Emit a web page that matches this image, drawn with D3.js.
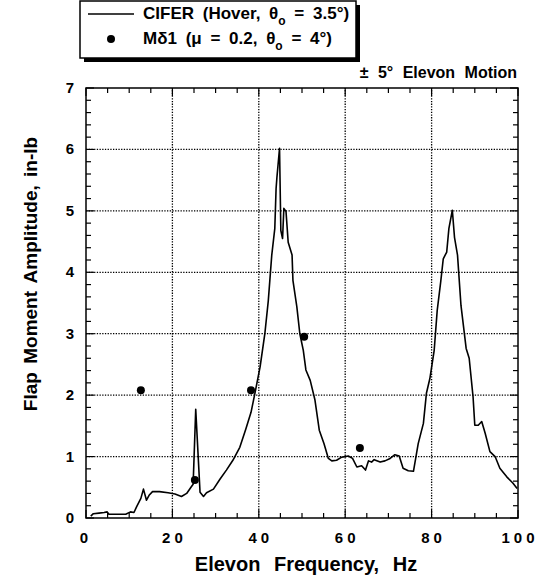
<!DOCTYPE html>
<html lang="en">
<head>
    <meta charset="UTF-8">
    <script src="https://cdn.jsdelivr.net/npm/d3@7"></script>
    <style>
        body { margin: 0; background: #fff; }
        text { font-family: "Liberation Sans", Arial, Helvetica, sans-serif; font-weight: bold; fill: #000; }
    </style>
</head>
<body>
<div id="fig"></div>
<script>
    const width = 548, height = 581;
    const margins = { top: 88, bottom: 63, left: 86, right: 30 };

    // CIFER hover frequency sweep (Hz, in-lb)
    const ciferFreq = [1.1, 1.7, 3.0, 4.2, 4.9, 5.3, 7.0, 9.2, 10.3, 11.1, 11.7, 12.7, 13.3, 14.0, 14.6, 15.4,
        17.0, 19.0, 20.6, 22.1, 23.3, 24.3, 24.8, 25.4, 26.4, 27.2, 27.9, 29.5, 31.0, 32.5, 34.0, 35.6,
        37.0, 38.2, 39.1, 40.3, 41.4, 42.2, 43.0, 43.7, 44.0, 44.2, 44.8, 45.1, 45.5, 45.8, 46.3, 46.8,
        47.7, 47.9, 48.8, 49.5, 50.3, 50.9, 51.9, 53.0, 54.0, 55.1, 56.1, 56.9, 58.0, 59.2, 60.7, 61.7,
        62.7, 63.8, 64.7, 65.4, 66.1, 66.7, 68.1, 69.2, 70.4, 71.5, 72.5, 73.4, 74.6, 75.8, 76.9, 78.1,
        78.8, 79.6, 80.6, 81.3, 82.1, 82.7, 83.5, 84.0, 84.8, 85.3, 86.0, 86.8, 88.0, 88.7, 89.6, 90.0,
        90.8, 91.6, 92.4, 93.5, 94.7, 95.8, 97.4, 98.8, 99.8];
    const ciferAmp = [0.03, 0.07, 0.08, 0.09, 0.10, 0.06, 0.06, 0.06, 0.10, 0.09, 0.18, 0.32, 0.47, 0.29, 0.37, 0.43,
        0.43, 0.41, 0.39, 0.35, 0.40, 0.50, 0.55, 1.77, 0.42, 0.35, 0.41, 0.47, 0.63, 0.78, 0.94, 1.15,
        1.45, 1.72, 2.03, 2.46, 3.00, 3.54, 4.28, 4.71, 5.36, 5.55, 6.02, 4.68, 4.55, 5.04, 4.99, 4.49,
        4.28, 3.87, 3.44, 3.00, 2.73, 2.41, 2.24, 1.92, 1.43, 1.21, 0.97, 0.93, 0.94, 0.99, 1.01, 0.97,
        0.83, 0.85, 0.78, 0.93, 0.91, 0.95, 0.91, 0.93, 0.97, 1.03, 1.01, 0.81, 0.77, 0.76, 1.21, 1.54,
        2.03, 2.27, 2.73, 3.38, 3.84, 4.22, 4.33, 4.71, 5.01, 4.57, 4.28, 3.46, 2.76, 2.60, 1.97, 1.51,
        1.51, 1.57, 1.38, 1.08, 1.00, 0.81, 0.67, 0.57, 0.48];

    // M-delta-1 comprehensive analysis points
    const mdFreq = [12.7, 25.2, 38.2, 50.5, 63.4];
    const mdAmp = [2.08, 0.62, 2.08, 2.95, 1.14];

    const xMajor = [0, 20, 40, 60, 80, 100];
    const yMajor = [0, 1, 2, 3, 4, 5, 6, 7];

    const svg = d3.select("#fig")
        .append("svg")
        .attr("width", width)
        .attr("height", height);

    svg.append("rect").attr("width", width).attr("height", height).attr("fill", "#fff");

    const x = d3.scaleLinear().domain([0, 100]).range([margins.left, width - margins.right]);
    const y = d3.scaleLinear().domain([0, 7]).range([height - margins.bottom, margins.top]);

    const x0 = x.range()[0], x1 = x.range()[1], y0 = y.range()[0], y1 = y.range()[1];

    // dotted grid
    svg.append("g")
        .selectAll("line")
        .data([20, 40, 60, 80])
        .join("line")
        .attr("x1", d => x(d)).attr("x2", d => x(d))
        .attr("y1", y0).attr("y2", y1)
        .attr("stroke", "#000").attr("stroke-width", 1.3).attr("stroke-dasharray", "1.3,1.4");
    svg.append("g")
        .selectAll("line")
        .data([1, 2, 3, 4, 5, 6])
        .join("line")
        .attr("x1", x0).attr("x2", x1)
        .attr("y1", d => y(d)).attr("y2", d => y(d))
        .attr("stroke", "#000").attr("stroke-width", 1.3).attr("stroke-dasharray", "1.3,1.4");

    // ticks on all four sides, pointing in
    const tickLen = (d, major) => major.includes(d) ? 8 : 5;
    const xTicks = d3.range(0, 101, 5);
    const yTicks = d3.range(0, 7.01, 0.2).map(d => +d.toFixed(1));
    const tickG = svg.append("g").attr("stroke", "#000").attr("stroke-width", 1.2);
    tickG.selectAll(".xb").data(xTicks).join("line")
        .attr("x1", d => x(d)).attr("x2", d => x(d))
        .attr("y1", y0).attr("y2", d => y0 - tickLen(d, xMajor));
    tickG.selectAll(".xt").data(xTicks).join("line")
        .attr("x1", d => x(d)).attr("x2", d => x(d))
        .attr("y1", y1).attr("y2", d => y1 + tickLen(d, xMajor));
    tickG.selectAll(".yl").data(yTicks).join("line")
        .attr("y1", d => y(d)).attr("y2", d => y(d))
        .attr("x1", x0).attr("x2", d => x0 + tickLen(d, yMajor));
    tickG.selectAll(".yr").data(yTicks).join("line")
        .attr("y1", d => y(d)).attr("y2", d => y(d))
        .attr("x1", x1).attr("x2", d => x1 - tickLen(d, yMajor));

    // frame
    svg.append("rect")
        .attr("x", x0).attr("y", y1)
        .attr("width", x1 - x0).attr("height", y0 - y1)
        .attr("fill", "none").attr("stroke", "#000").attr("stroke-width", 1.5);

    // tick labels
    svg.append("g")
        .selectAll("text")
        .data(xMajor)
        .join("text")
        .attr("x", d => x(d) + (d === 0 ? 0 : 2))
        .attr("y", y0 + 25)
        .attr("text-anchor", "middle")
        .attr("font-size", 15)
        .attr("letter-spacing", 4)
        .text(d => d);
    svg.append("g")
        .selectAll("text")
        .data(yMajor)
        .join("text")
        .attr("x", x0 - 12)
        .attr("y", d => y(d) + 5)
        .attr("text-anchor", "end")
        .attr("font-size", 15)
        .text(d => d);

    // axis titles
    svg.append("text")
        .attr("x", (x0 + x1) / 2 + 4)
        .attr("y", 571)
        .attr("text-anchor", "middle")
        .attr("font-size", 20)
        .attr("word-spacing", 8)
        .text("Elevon Frequency, Hz");
    svg.append("text")
        .attr("transform", "translate(37,274) rotate(-90)")
        .attr("text-anchor", "middle")
        .attr("font-size", 19)
        .attr("word-spacing", 3)
        .text("Flap Moment Amplitude, in-lb");

    svg.append("text")
        .attr("x", x1 - 1)
        .attr("y", 78)
        .attr("text-anchor", "end")
        .attr("font-size", 16)
        .attr("word-spacing", 5)
        .text("± 5° Elevon Motion");

    // data
    const cifer = ciferFreq.map((f, i) => [f, ciferAmp[i]]);
    svg.append("path")
        .datum(cifer)
        .attr("fill", "none")
        .attr("stroke", "#000")
        .attr("stroke-width", 1.6)
        .attr("stroke-linejoin", "round")
        .attr("d", d3.line().x(d => x(d[0])).y(d => y(d[1])));

    svg.append("g")
        .selectAll("circle")
        .data(mdFreq.map((f, i) => [f, mdAmp[i]]))
        .join("circle")
        .attr("cx", d => x(d[0]))
        .attr("cy", d => y(d[1]))
        .attr("r", 4)
        .attr("fill", "#000");

    // legend with drop shadow
    const lg = svg.append("g").attr("transform", "translate(80,1)");
    const lw = 276, lh = 57;
    lg.append("rect").attr("x", 4).attr("y", 4).attr("width", lw).attr("height", lh).attr("fill", "#000");
    lg.append("rect").attr("x", 0).attr("y", 0).attr("width", lw).attr("height", lh)
        .attr("fill", "#fff").attr("stroke", "#000").attr("stroke-width", 1.5);
    lg.append("line").attr("x1", 8).attr("x2", 54).attr("y1", 13).attr("y2", 13)
        .attr("stroke", "#000").attr("stroke-width", 1.5);
    lg.append("circle").attr("cx", 31).attr("cy", 38).attr("r", 4).attr("fill", "#000");

    const t1 = lg.append("text").attr("x", 63).attr("y", 18).attr("font-size", 17).attr("word-spacing", 4);
    t1.append("tspan").text("CIFER (Hover, θ");
    t1.append("tspan").attr("dy", 6).attr("font-size", 12).text("o");
    t1.append("tspan").attr("dy", -6).text(" = 3.5°)");
    const t2 = lg.append("text").attr("x", 63).attr("y", 43).attr("font-size", 17).attr("word-spacing", 4);
    t2.append("tspan").text("Mδ1 (μ = 0.2, θ");
    t2.append("tspan").attr("dy", 6).attr("font-size", 12).text("o");
    t2.append("tspan").attr("dy", -6).text(" = 4°)");
</script>
</body>
</html>
